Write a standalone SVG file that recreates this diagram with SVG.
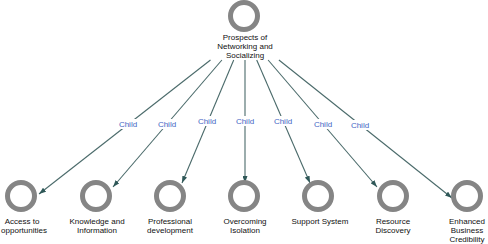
<svg xmlns="http://www.w3.org/2000/svg" width="488" height="244" viewBox="0 0 488 244">
<defs>
<style>
.n{fill:none;stroke:#858585;stroke-width:5}
.t{font-family:"Liberation Sans",Arial,sans-serif;font-size:8px;fill:#111;text-anchor:middle}
.e{stroke:#4a6a6a;stroke-width:1.1;fill:none;marker-end:url(#a)}
.lb{fill:#fff}
.lt{font-family:"Liberation Sans",Arial,sans-serif;font-size:8px;fill:#4466c4;text-anchor:middle}
</style>
<marker id="a" markerUnits="userSpaceOnUse" markerWidth="7" markerHeight="5" refX="7" refY="2.5" orient="auto">
<path d="M0,0 L7,2.5 L0,5 z" fill="#2f5858"/>
</marker>
</defs>
<rect width="488" height="244" fill="#fff"/>
<g id="connectors">
<line class="e" x1="210.5" y1="60" x2="39" y2="194"/>
<line class="e" x1="221.9" y1="60" x2="113" y2="187"/>
<line class="e" x1="233.7" y1="60" x2="182" y2="183"/>
<line class="e" x1="245" y1="60" x2="245" y2="183"/>
<line class="e" x1="256.7" y1="60" x2="310" y2="183"/>
<line class="e" x1="268.1" y1="60" x2="377" y2="187"/>
<line class="e" x1="278.9" y1="60" x2="452" y2="198"/>
<rect class="lb" x="118" y="119" width="20" height="10"/>
<text class="lt" x="128" y="127">Child</text>
<rect class="lb" x="157" y="119" width="20" height="10"/>
<text class="lt" x="167" y="127">Child</text>
<rect class="lb" x="197" y="116" width="20" height="10"/>
<text class="lt" x="207" y="124">Child</text>
<rect class="lb" x="235" y="116" width="20" height="10"/>
<text class="lt" x="245" y="124">Child</text>
<rect class="lb" x="273" y="116" width="20" height="10"/>
<text class="lt" x="283" y="124">Child</text>
<rect class="lb" x="313" y="119" width="20" height="10"/>
<text class="lt" x="323" y="127">Child</text>
<rect class="lb" x="350" y="120" width="20" height="10"/>
<text class="lt" x="360" y="128">Child</text>
</g>
<g id="root">
<circle class="n" cx="244" cy="16" r="13.5"/>
<text class="t" x="245" y="40">Prospects of</text>
<text class="t" x="245" y="49">Networking and</text>
<text class="t" x="245" y="58">Socializing</text>
</g>
<g id="n1">
<circle class="n" cx="21" cy="196" r="13.5"/>
<text class="t" x="22" y="224">Access to</text>
<text class="t" x="24" y="233">opportunities</text>
</g>
<g id="n2">
<circle class="n" cx="96" cy="196" r="13.5"/>
<text class="t" x="97" y="224">Knowledge and</text>
<text class="t" x="97" y="233">Information</text>
</g>
<g id="n3">
<circle class="n" cx="170" cy="196" r="13.5"/>
<text class="t" x="170" y="224">Professional</text>
<text class="t" x="170" y="233">development</text>
</g>
<g id="n4">
<circle class="n" cx="244" cy="196" r="13.5"/>
<text class="t" x="245" y="224">Overcoming</text>
<text class="t" x="245" y="233">Isolation</text>
</g>
<g id="n5">
<circle class="n" cx="318" cy="196" r="13.5"/>
<text class="t" x="320" y="224">Support System</text>
</g>
<g id="n6">
<circle class="n" cx="393" cy="196" r="13.5"/>
<text class="t" x="393" y="224">Resource</text>
<text class="t" x="393" y="233">Discovery</text>
</g>
<g id="n7">
<circle class="n" cx="467" cy="196" r="13.5"/>
<text class="t" x="467" y="224">Enhanced</text>
<text class="t" x="467" y="233">Business</text>
<text class="t" x="467" y="242">Credibility</text>
</g>
</svg>
